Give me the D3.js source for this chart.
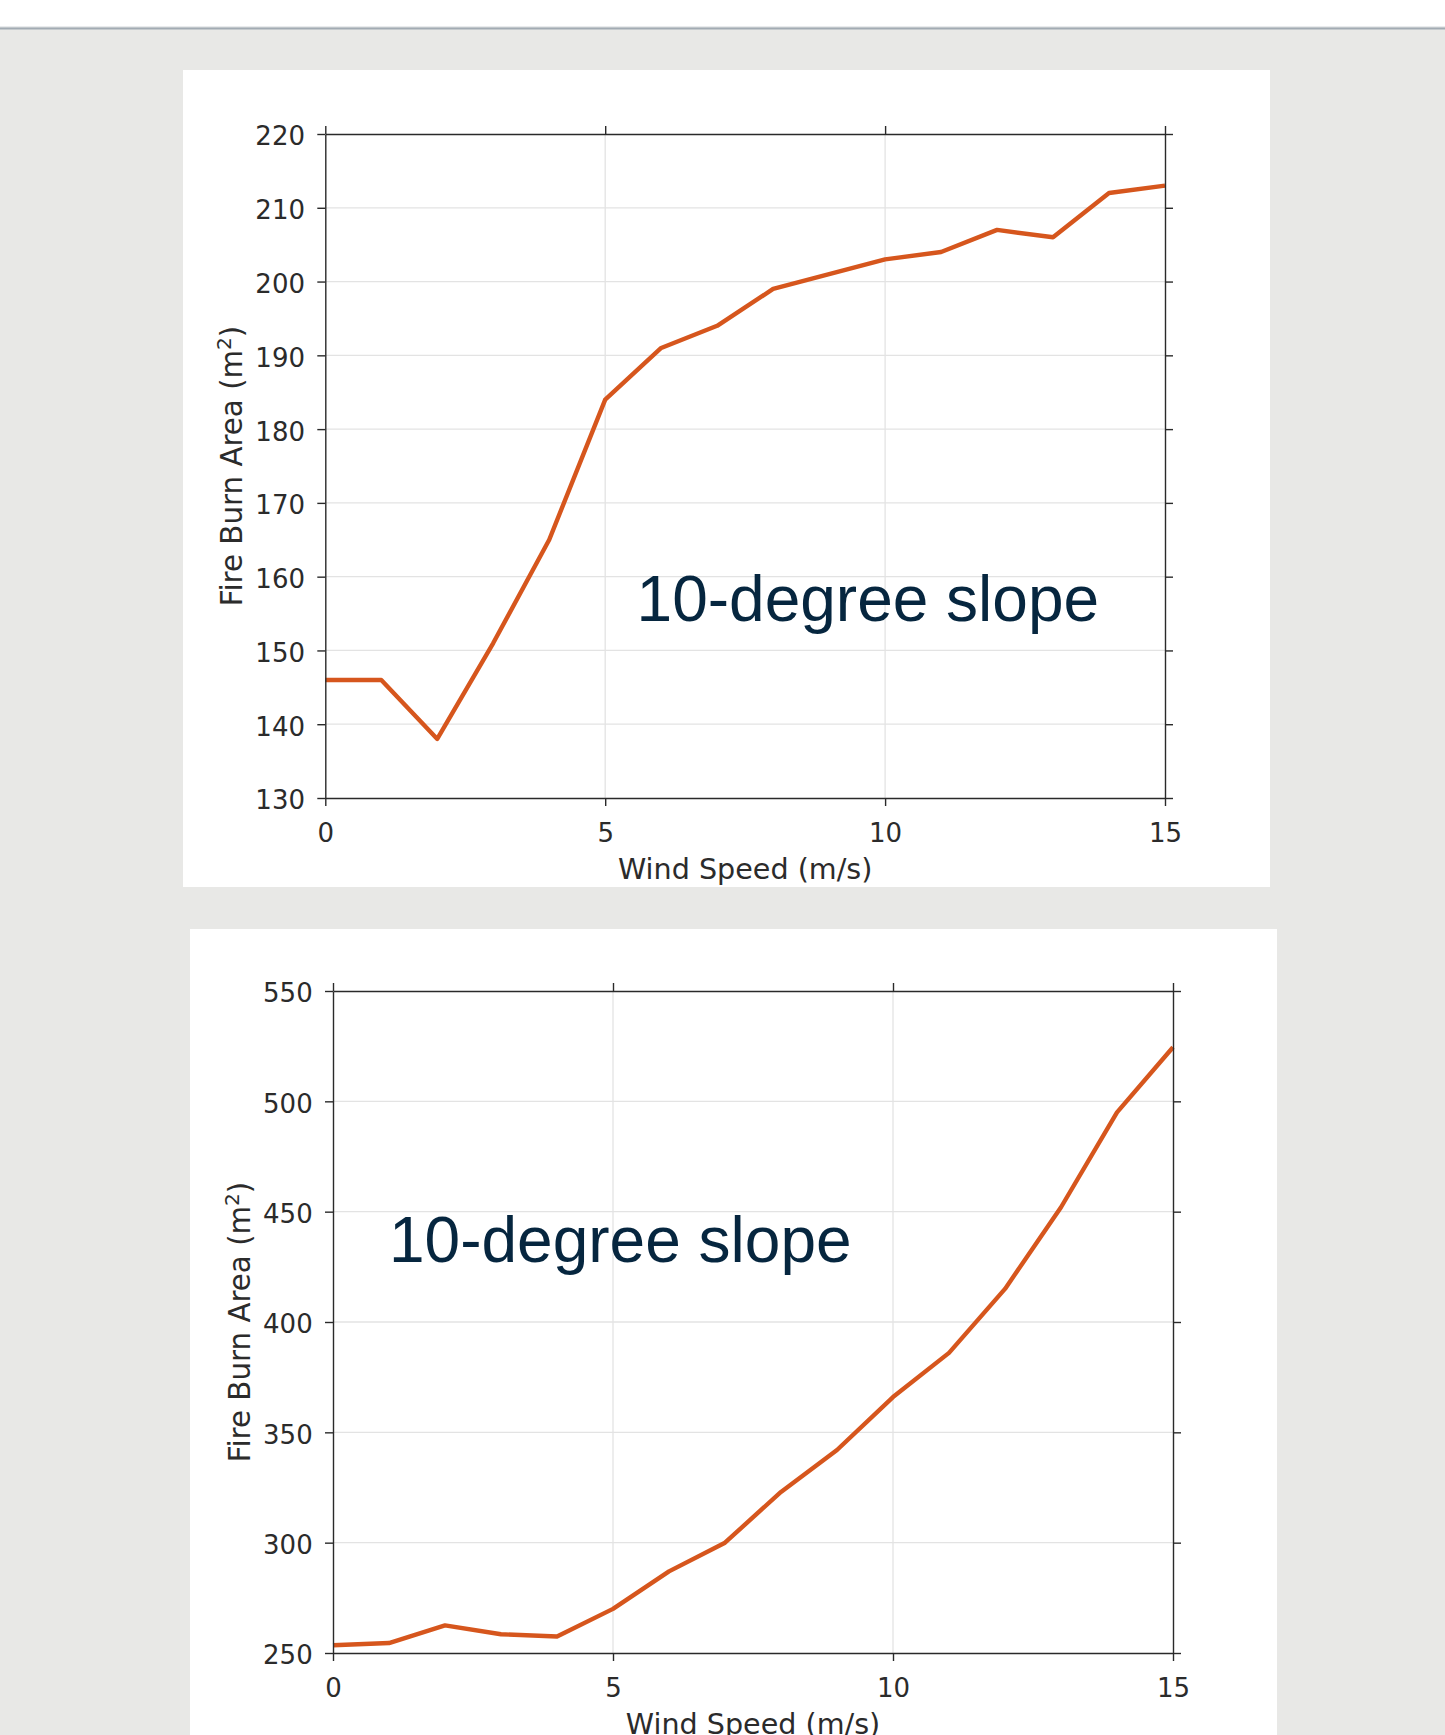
<!DOCTYPE html>
<html>
<head>
<meta charset="utf-8">
<script src="https://cdn.jsdelivr.net/npm/d3@7"></script>
<style>
  html, body { margin: 0; padding: 0; background: #e8e8e6; }
  svg { display: block; }
</style>
</head>
<body>
<svg id="chart" width="1445" height="1735"></svg>
<script>
// ---------- data ----------
const windSpeed = [0, 1, 2, 3, 4, 5, 6, 7, 8, 9, 10, 11, 12, 13, 14, 15];
const burnAreaTop = [146, 146, 138, 151, 165, 184, 191, 194, 199, 201, 203, 204, 207, 206, 212, 213];
const burnAreaBottom = [253.5, 254.5, 262.5, 258.5, 257.5, 270, 287, 300, 323, 342, 366, 386, 415, 452, 495, 524.5];
const xTicks = [0, 5, 10, 15];
const yTicksTop = [130, 140, 150, 160, 170, 180, 190, 200, 210, 220];
const yTicksBottom = [250, 300, 350, 400, 450, 500, 550];
const xLabel = "Wind Speed (m/s)";
const yLabelMain = "Fire Burn Area (m";
const annotationText = "10-degree slope";

// ---------- layout ----------
const panels = [
  { card: [183, 70, 1087, 817], plot: { l: 325.3, r: 1165, t: 134, b: 798 },
    yDomain: [130, 220], yTicks: yTicksTop, values: burnAreaTop, note: [5.56, 154] },
  { card: [190, 929, 1087, 830], plot: { l: 333, r: 1173, t: 991, b: 1653 },
    yDomain: [250, 550], yTicks: yTicksBottom, values: burnAreaBottom, note: [1.0, 427] }
];

const svg = d3.select("#chart");
svg.append("rect").attr("x", 0).attr("y", 0).attr("width", 1445).attr("height", 27).attr("fill", "#ffffff");
svg.append("rect").attr("x", 0).attr("y", 26.5).attr("width", 1445).attr("height", 1).attr("fill", "#d3d8dc");
svg.append("rect").attr("x", 0).attr("y", 27.5).attr("width", 1445).attr("height", 2).attr("fill", "#a2abb3");

const axisColor = "#2a2a2a";
const tickFont = "'DejaVu Sans', sans-serif";

panels.forEach(p => {
  svg.append("rect")
    .attr("x", p.card[0]).attr("y", p.card[1])
    .attr("width", p.card[2]).attr("height", p.card[3])
    .attr("fill", "#ffffff");

  const x = d3.scaleLinear().domain([0, 15]).range([p.plot.l, p.plot.r]);
  const y = d3.scaleLinear().domain(p.yDomain).range([p.plot.b, p.plot.t]);
  const g = svg.append("g");

  // grid
  g.append("g").selectAll("line").data(xTicks.filter(d => d > 0 && d < 15)).join("line")
    .attr("x1", d => x(d)).attr("x2", d => x(d))
    .attr("y1", p.plot.t).attr("y2", p.plot.b)
    .attr("stroke", "#e3e3e3").attr("stroke-width", 1.3);
  g.append("g").selectAll("line").data(p.yTicks.slice(1, -1)).join("line")
    .attr("y1", d => y(d)).attr("y2", d => y(d))
    .attr("x1", p.plot.l).attr("x2", p.plot.r)
    .attr("stroke", "#e3e3e3").attr("stroke-width", 1.3);

  // data line
  const line = d3.line().x((d, i) => x(windSpeed[i])).y(d => y(d));
  g.append("path").datum(p.values)
    .attr("d", line)
    .attr("fill", "none")
    .attr("stroke", "#D6561D")
    .attr("stroke-width", 4.4)
    .attr("stroke-linejoin", "round")
    .attr("stroke-linecap", "butt");

  // axes
  const styleAxis = sel => {
    sel.selectAll(".domain").attr("stroke", axisColor).attr("stroke-width", 1.4);
    sel.selectAll(".tick line").attr("stroke", axisColor).attr("stroke-width", 1.4);
    sel.selectAll("text").attr("fill", "#2b2b2b").attr("font-family", tickFont).attr("font-size", 26);
  };
  const bottom = g.append("g").attr("transform", `translate(0,${p.plot.b})`)
    .call(d3.axisBottom(x).tickValues(xTicks).tickSize(8).tickSizeOuter(0).tickPadding(18).tickFormat(d3.format("d")));
  styleAxis(bottom);
  const top = g.append("g").attr("transform", `translate(0,${p.plot.t})`)
    .call(d3.axisTop(x).tickValues(xTicks).tickSize(8).tickSizeOuter(0).tickFormat(""));
  styleAxis(top);
  const left = g.append("g").attr("transform", `translate(${p.plot.l},0)`)
    .call(d3.axisLeft(y).tickValues(p.yTicks).tickSize(8).tickSizeOuter(0).tickPadding(12.3).tickFormat(d3.format("d")));
  styleAxis(left);
  left.selectAll("text").attr("dy", "0.42em");
  const right = g.append("g").attr("transform", `translate(${p.plot.r},0)`)
    .call(d3.axisRight(y).tickValues(p.yTicks).tickSize(8).tickSizeOuter(0).tickFormat(""));
  styleAxis(right);

  // axis labels
  const cx = (p.plot.l + p.plot.r) / 2;
  const cy = (p.plot.t + p.plot.b) / 2;
  g.append("text")
    .attr("x", cx).attr("y", p.plot.b + 80.5)
    .attr("text-anchor", "middle")
    .attr("font-family", tickFont).attr("font-size", 28.6).attr("fill", "#2b2b2b")
    .text(xLabel);
  const yl = g.append("text")
    .attr("transform", `translate(${p.plot.l - 83},${cy}) rotate(-90)`)
    .attr("text-anchor", "middle")
    .attr("font-family", tickFont).attr("font-size", 29.3).attr("fill", "#2b2b2b");
  yl.append("tspan").text(yLabelMain);
  yl.append("tspan").attr("font-size", 20).attr("dy", -11.5).text("2");
  yl.append("tspan").attr("dy", 11.5).text(")");

  // annotation
  g.append("text")
    .attr("x", x(p.note[0])).attr("y", y(p.note[1]))
    .attr("font-family", "'Liberation Sans', Arial, sans-serif")
    .attr("font-size", 64)
    .attr("fill", "#06263f")
    .text(annotationText);
});
</script>
</body>
</html>
